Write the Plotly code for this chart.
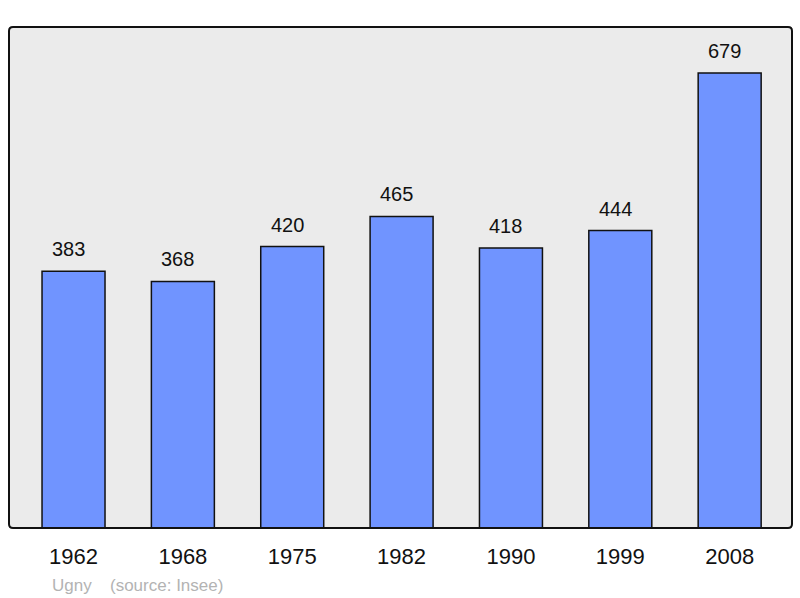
import plotly.graph_objects as go

years = ["1962", "1968", "1975", "1982", "1990", "1999", "2008"]
population = [383, 368, 420, 465, 418, 444, 679]
commune = "Ugny"
source = "(source: Insee)"

W, H = 800, 598
L, R, T, B = 9, 8, 27, 70
PW, PH = W - L - R, H - T - B

fig = go.Figure()
fig.add_trace(go.Bar(
    x=list(range(len(years))), y=population,
    width=0.576,
    marker=dict(color="#7094FF", line=dict(color="#111", width=1.5)),
    hoverinfo="skip",
))

for i, v in enumerate(population):
    fig.add_annotation(x=i, y=v, text=str(v), showarrow=False, yshift=22, xshift=-5,
                       font=dict(size=20, color="#111"), xref="x", yref="y")

fig.add_annotation(xref="paper", yref="paper", x=(50 - L) / PW, y=-(585 - T - PH) / PH,
                   xanchor="left", yanchor="middle", text=commune, showarrow=False,
                   font=dict(size=17, color="#b3b3b3"))
fig.add_annotation(xref="paper", yref="paper", x=(108 - L) / PW, y=-(585 - T - PH) / PH,
                   xanchor="left", yanchor="middle", text=source, showarrow=False,
                   font=dict(size=17, color="#b3b3b3"))

rx, ry = 4 / PW, 4 / PH
path = (f"M {rx},1 L {1-rx},1 Q 1,1 1,{1-ry} L 1,{ry} Q 1,0 {1-rx},0 "
        f"L {rx},0 Q 0,0 0,{ry} L 0,{1-ry} Q 0,1 {rx},1 Z")
fig.add_shape(type="path", xref="paper", yref="paper", path=path,
              line=dict(color="#111", width=2), layer="above")

fig.update_layout(
    width=W, height=H,
    margin=dict(l=L, r=R, t=T, b=B),
    paper_bgcolor="white", plot_bgcolor="#EBEBEB",
    font=dict(family="Liberation Sans, Arial, sans-serif", color="#111"),
    showlegend=False,
    xaxis=dict(range=[-0.59, 6.57], tickmode="array", tickvals=list(range(len(years))),
               ticktext=years, showgrid=False, zeroline=False,
               ticks="outside", ticklen=9, tickcolor="rgba(0,0,0,0)",
               tickfont=dict(size=22, color="#111")),
    yaxis=dict(range=[0, 747.7], showgrid=False, zeroline=False, showticklabels=False),
)
fig.write_html("out.html", config={"displayModeBar": False},
               post_script="document.body.style.margin='0';document.body.style.overflow='hidden';")
